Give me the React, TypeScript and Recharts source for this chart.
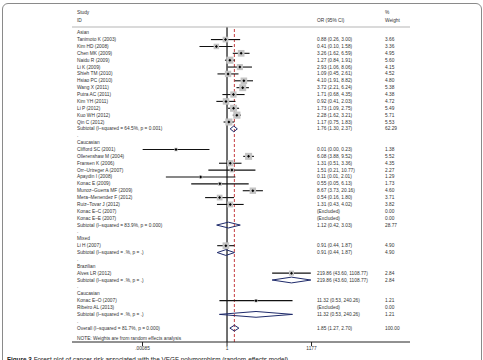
import { ScatterChart, Scatter, XAxis, YAxis, ErrorBar, ReferenceLine } from 'recharts';

const FONT = '"Liberation Sans", Arial, sans-serif';
const INK = '#333';

const ROW_LABELS = [
  'Asian',
  'Tanimoto K (2003)', 'Kim HD (2008)', 'Chen MK (2009)', 'Naidu R (2009)', 'Li K (2009)',
  'Shieh TM (2010)', 'Hsiao PC (2010)', 'Wang X (2011)', 'Putra AC (2011)', 'Kim YH (2011)',
  'Li P (2012)', 'Kuo WH (2012)', 'Qin C (2012)',
  'Subtotal  (I–squared = 64.5%, p = 0.001)',
  '.',
  'Caucasian',
  'Clifford SC (2001)', 'Ollerenshaw M (2004)', 'Fransen K (2006)', 'Orr–Urtreger A (2007)',
  'Apaydin I (2008)', 'Konac E (2009)', 'Munoz–Guerra MF (2009)', 'Mera–Menendez F (2012)',
  'Ruiz–Tovar J (2012)', 'Konac E–C (2007)', 'Konac E–E (2007)',
  'Subtotal  (I–squared = 83.9%, p = 0.000)',
  '.',
  'Mixed',
  'Li H (2007)',
  'Subtotal  (I–squared = .%, p = .)',
  '.',
  'Brazilian',
  'Alves LR (2012)',
  'Subtotal  (I–squared = .%, p = .)',
  '.',
  'Caucasian',
  'Konac E–O (2007)', 'Ribeiro AL (2013)',
  'Subtotal  (I–squared = .%, p = .)',
  '.',
  'Overall  (I–squared = 81.7%, p = 0.000)',
];

const ROW_OR = [
  null,
  0.88, 0.41, 3.26, 1.27, 2.93, 1.09, 4.1, 3.72, 1.71, 0.92, 1.73, 2.28, 1.17,
  1.76,
  null, null,
  0.014, 6.08, 1.31, 1.51, 0.11, 0.55, 8.67, 0.54, 1.31, null, null,
  1.12,
  null, null,
  0.91, 0.91,
  null, null,
  219.86, 219.86,
  null, null,
  11.32, null, 11.32,
  null,
  1.85,
];

const ROW_LO = [
  null,
  0.26, 0.1, 1.62, 0.84, 1.06, 0.45, 1.91, 2.21, 0.68, 0.41, 1.09, 1.62, 0.75,
  1.3,
  null, null,
  0.00086, 3.88, 0.51, 0.21, 0.006, 0.05, 3.73, 0.16, 0.43, null, null,
  0.42,
  null, null,
  0.44, 0.44,
  null, null,
  43.6, 43.6,
  null, null,
  0.53, null, 0.53,
  null,
  1.27,
];

const ROW_HI = [
  null,
  3.0, 1.58, 6.59, 1.91, 8.06, 2.61, 8.82, 6.24, 4.35, 2.03, 2.75, 3.21, 1.83,
  2.37,
  null, null,
  0.23, 9.52, 3.36, 10.77, 2.01, 6.13, 20.16, 1.8, 4.02, null, null,
  3.03,
  null, null,
  1.87, 1.87,
  null, null,
  1108.77, 1108.77,
  null, null,
  240.26, null, 240.26,
  null,
  2.7,
];

const ROW_WEIGHT = [
  null,
  3.66, 3.36, 4.95, 5.6, 4.15, 4.52, 4.8, 5.38, 4.38, 4.72, 5.49, 5.71, 5.53,
  62.29,
  null, null,
  1.38, 5.52, 4.35, 2.27, 1.29, 1.73, 4.6, 3.71, 3.82, 0, 0,
  28.77,
  null, null,
  4.9, 4.9,
  null, null,
  2.84, 2.84,
  null, null,
  1.21, 0, 1.21,
  null,
  100,
];

const TICK_VALUES = [0.00085, 1, 1177];
const TICK_TEXT = ['.00085', '1', '1177'];
const OVERALL_OR = 1.85;

const isPooled = (i: number) => /^(Subtotal|Overall)/.test(ROW_LABELS[i]);

const rows = ROW_LABELS.map((_, i) => ({ x: 0, y: i, i }));

const studies = rows
  .filter(({ i }) => ROW_OR[i] != null && !isPooled(i))
  .map(({ i }) => {
    const x = Math.log(ROW_OR[i] as number);
    return {
      x,
      y: i,
      w: ROW_WEIGHT[i] as number,
      err: [x - Math.log(ROW_LO[i] as number), Math.log(ROW_HI[i] as number) - x],
    };
  });

const DIAMOND_H = 0.42;
const diamonds = rows
  .filter(({ i }) => isPooled(i))
  .map(({ i }) => {
    const lo = Math.log(ROW_LO[i] as number);
    const mid = Math.log(ROW_OR[i] as number);
    const hi = Math.log(ROW_HI[i] as number);
    return [
      { x: lo, y: i },
      { x: mid, y: i - DIAMOND_H },
      { x: hi, y: i },
      { x: mid, y: i + DIAMOND_H },
      { x: lo, y: i },
    ];
  });

const NAME_X = 77;
const CI_X = 317;
const W_X = 385;
const FS = 4.8;

// text columns, one per row, placed on the row's y from the chart scale
function RowText({ cy, payload }: any) {
  const i = payload.i as number;
  const or = ROW_OR[i];
  const w = ROW_WEIGHT[i];
  let ci = '';
  if (or != null) {
    ci = `${or.toFixed(2)} (${(ROW_LO[i] as number).toFixed(2)}, ${(ROW_HI[i] as number).toFixed(2)})`;
  } else if (w === 0) {
    ci = '(Excluded)';
  }
  return (
    <g fontFamily={FONT} fontSize={FS} fill={INK}>
      <text x={NAME_X} y={cy} dominantBaseline="central">{ROW_LABELS[i]}</text>
      {ci && <text x={CI_X} y={cy} dominantBaseline="central">{ci}</text>}
      {w != null && <text x={W_X} y={cy} dominantBaseline="central">{w.toFixed(2)}</text>}
    </g>
  );
}

function BoxShape({ cx, cy, payload }: any) {
  const s = 3 * Math.sqrt(payload.w);
  return <rect x={cx - s / 2} y={cy - s / 2} width={s} height={s} fill="#c4c4c4" />;
}

function DotShape({ cx, cy }: any) {
  const r = 1.5;
  return <path d={`M${cx - r},${cy}L${cx},${cy - r}L${cx + r},${cy}L${cx},${cy + r}Z`} fill="#000" />;
}

const NoShape = () => <g />;

export default function App() {
  return (
    <div style={{ position: 'absolute', left: 0, top: 0, width: 483, height: 360, overflow: 'hidden', background: '#fff', fontFamily: FONT }}>
      <div style={{ position: 'absolute', left: 2, top: 3, width: 478, height: 380, border: '1.5px solid #8a8a8a', borderRadius: 6 }} />
      <ScatterChart width={483} height={360} margin={{ top: 27, right: 73, bottom: 0, left: 72 }}>
        <XAxis
          type="number"
          dataKey="x"
          domain={[-12.97, 15.31]}
          allowDataOverflow
          ticks={TICK_VALUES.map(Math.log)}
          tickFormatter={(_, i) => TICK_TEXT[i]}
          height={18}
          tickSize={4}
          tickMargin={1}
          axisLine={{ stroke: '#222' }}
          tickLine={{ stroke: '#222' }}
          tick={{ fontSize: FS, fill: INK, fontFamily: FONT }}
        />
        <YAxis type="number" dataKey="y" reversed domain={[-0.83, 45.02]} allowDataOverflow hide />
        <ReferenceLine x={0} stroke="#111" strokeWidth={1.2} />
        <ReferenceLine x={Math.log(OVERALL_OR)} stroke="#c0282d" strokeWidth={0.9} strokeDasharray="3 2" />
        <Scatter data={rows} shape={<RowText />} isAnimationActive={false} />
        <Scatter data={studies} shape={<BoxShape />} isAnimationActive={false} />
        <Scatter data={studies} shape={<DotShape />} isAnimationActive={false}>
          <ErrorBar dataKey="err" direction="x" width={0} stroke="#111" strokeWidth={1.1} />
        </Scatter>
        {diamonds.map((d, k) => (
          <Scatter
            key={k}
            data={d}
            fill="none"
            line={{ stroke: '#1f2b6b', strokeWidth: 1 }}
            lineJointType="linear"
            shape={<NoShape />}
            isAnimationActive={false}
          />
        ))}
      </ScatterChart>
      <svg width={483} height={360} style={{ position: 'absolute', left: 0, top: 0, pointerEvents: 'none' }}>
        <g fontFamily={FONT} fontSize={FS} fill={INK}>
          <text x={NAME_X} y={12} dominantBaseline="central">Study</text>
          <text x={NAME_X} y={20} dominantBaseline="central">ID</text>
          <text x={CI_X} y={20} dominantBaseline="central">OR (95% CI)</text>
          <text x={W_X} y={12} dominantBaseline="central">%</text>
          <text x={W_X} y={20} dominantBaseline="central">Weight</text>
          <text x={NAME_X} y={338} dominantBaseline="central">NOTE: Weights are from random effects analysis</text>
        </g>
        <line x1={72} x2={410} y1={27} y2={27} stroke="#b5b5b5" strokeWidth={1} />
      </svg>
      <div style={{ position: 'absolute', left: 7, top: 356, fontSize: 6.4, lineHeight: '8px', color: '#222', whiteSpace: 'nowrap' }}>
        <b>Figure 3</b> Forest plot of cancer risk associated with the VEGF polymorphism (random-effects model).
      </div>
    </div>
  );
}
